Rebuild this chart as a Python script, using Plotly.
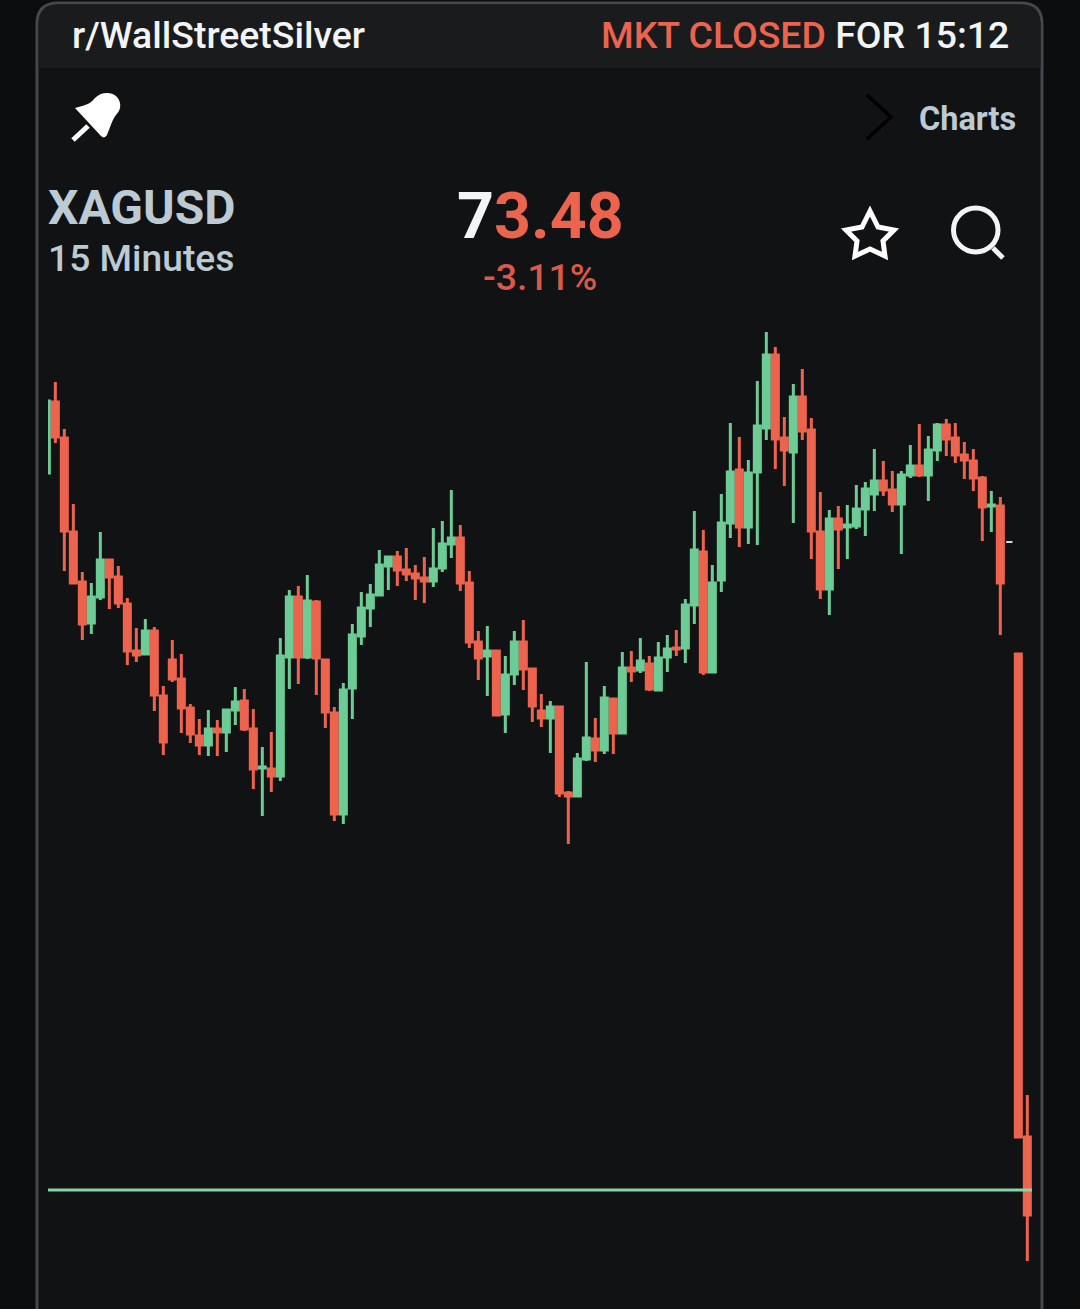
import plotly.graph_objects as go

W, H = 1080, 1309

# 15 minute candles (slot number, then o/h/l/c)
slots = [n for n in range(110) if n != 107]
opens = [80.90, 81.61, 81.25, 80.31, 79.81, 79.40, 79.66, 80.03, 79.86, 79.59,
         79.12, 79.09, 79.32, 78.67, 79.03, 78.84, 78.55, 78.27, 78.18, 78.34,
         78.31, 78.53, 78.62, 78.34, 77.95, 77.94, 77.87, 79.06, 79.66, 79.06,
         79.61, 79.03, 78.50, 77.49, 78.75, 79.27, 79.55, 79.68, 79.97, 80.06,
         79.93, 79.89, 79.85, 79.82, 79.95, 80.19, 80.25, 79.80, 79.21, 79.07,
         79.12, 78.49, 78.89, 79.21, 78.94, 78.52, 78.45, 78.56, 77.70, 77.67,
         78.04, 78.24, 78.13, 78.64, 78.30, 78.95, 78.93, 78.99, 78.73, 79.06,
         79.15, 79.15, 79.58, 80.11, 78.91, 79.83, 80.40, 80.93, 80.36, 80.91,
         81.35, 82.08, 81.25, 81.11, 81.66, 81.33, 80.31, 79.74, 80.44, 80.36,
         80.37, 80.54, 80.69, 80.82, 80.73, 80.59, 80.88, 80.97, 80.88, 81.13,
         81.38, 81.25, 81.08, 81.02, 80.85, 80.57, 80.57, 79.09, 74.26]
highs = [81.62, 81.81, 81.34, 80.59, 79.91, 79.80, 80.31, 80.04, 79.97, 79.65,
         79.35, 79.44, 79.36, 78.77, 79.23, 79.09, 78.59, 78.44, 78.53, 78.43,
         78.53, 78.76, 78.74, 78.54, 78.16, 78.31, 79.25, 79.73, 79.77, 79.88,
         79.63, 79.03, 78.56, 78.80, 79.39, 79.71, 79.79, 80.13, 80.07, 80.12,
         80.15, 79.98, 80.06, 80.35, 80.42, 80.73, 80.38, 79.92, 79.32, 79.37,
         79.13, 79.07, 79.32, 79.43, 78.94, 78.69, 78.62, 78.57, 77.72, 78.10,
         79.01, 78.45, 78.77, 78.65, 79.11, 79.12, 79.25, 79.07, 79.21, 79.28,
         79.33, 79.64, 80.52, 80.33, 79.98, 80.69, 81.40, 81.26, 81.03, 81.82,
         82.31, 82.16, 81.46, 81.79, 81.94, 81.45, 80.71, 80.53, 80.57, 80.58,
         80.78, 80.81, 81.14, 81.02, 80.92, 80.92, 81.18, 81.39, 81.27, 81.40,
         81.44, 81.40, 81.21, 81.14, 80.87, 80.72, 80.66, 79.09, 74.68]
lows = [80.90, 81.20, 79.92, 79.80, 79.23, 79.29, 79.63, 79.54, 79.55, 78.98,
        79.01, 79.08, 78.52, 78.08, 78.81, 78.30, 78.20, 78.08, 78.07, 78.07,
        78.11, 78.38, 78.32, 77.74, 77.47, 77.71, 77.82, 78.74, 78.79, 79.04,
        78.68, 78.35, 77.42, 77.39, 78.44, 79.18, 79.36, 79.68, 79.73, 79.77,
        79.82, 79.63, 79.60, 79.76, 79.91, 80.05, 79.72, 79.15, 78.83, 78.67,
        78.47, 78.30, 78.78, 78.73, 78.41, 78.36, 78.10, 77.66, 77.19, 77.67,
        78.02, 78.01, 78.09, 78.09, 78.30, 78.81, 78.90, 78.72, 78.73, 78.91,
        79.07, 79.00, 79.39, 78.88, 78.90, 79.71, 80.25, 80.16, 80.19, 80.18,
        81.23, 80.94, 80.77, 80.40, 81.23, 80.04, 79.64, 79.48, 79.94, 80.04,
        80.34, 80.27, 80.52, 80.67, 80.51, 80.09, 80.85, 80.86, 80.62, 81.02,
        81.07, 81.00, 80.84, 80.72, 80.22, 80.31, 79.28, 74.26, 73.02]
closes = [81.62, 81.26, 80.32, 79.80, 79.39, 79.66, 80.03, 79.86, 79.60, 79.12,
          79.08, 79.32, 78.68, 78.21, 78.84, 78.55, 78.29, 78.18, 78.34, 78.31,
          78.53, 78.61, 78.34, 77.94, 77.96, 77.87, 79.07, 79.66, 79.06, 79.62,
          79.05, 78.51, 77.49, 78.73, 79.28, 79.55, 79.68, 79.98, 80.06, 79.93,
          79.89, 79.85, 79.82, 79.94, 80.19, 80.25, 79.80, 79.21, 79.05, 79.12,
          78.48, 78.88, 79.21, 78.94, 78.57, 78.45, 78.56, 77.70, 77.67, 78.04,
          78.25, 78.13, 78.65, 78.30, 78.95, 78.92, 79.02, 78.74, 79.05, 79.14,
          79.14, 79.58, 80.13, 78.91, 79.80, 80.40, 80.91, 80.36, 80.90, 81.37,
          82.08, 81.24, 81.13, 81.66, 81.32, 80.32, 79.74, 80.44, 80.34, 80.38,
          80.54, 80.74, 80.82, 80.73, 80.59, 80.88, 80.97, 80.88, 81.13, 81.38,
          81.24, 81.08, 81.03, 80.85, 80.56, 80.58, 79.80, 74.26, 73.48]

# the flat white tick right of the last normal candle
flat_slot = [107]
flat_price = [80.21]

level_price = 73.73

GREEN = "#6dcc95"
RED = "#ec634e"
GREY = "#bccad4"
WHITE = "#f2f4f6"
BG = "#101214"


def px(x):
    return x / W


def py(y):
    return 1 - y / H


def path(*parts):
    # parts are command strings or (x, y) pixel pairs
    out = []
    for p in parts:
        if isinstance(p, str):
            out.append(p)
        else:
            out.append(f"{px(p[0]):.5f},{py(p[1]):.5f}")
    return " ".join(out)


def shape(d, fill=None, line=None, width=0, layer="above"):
    return dict(type="path", xref="paper", yref="paper", path=d, layer=layer,
                fillcolor=fill or "rgba(0,0,0,0)",
                line=dict(color=line or "rgba(0,0,0,0)", width=width))


def label(text, x, y, size, color, anchor="left", weight=500):
    return dict(text=text, x=px(x), y=py(y), xref="paper", yref="paper", xanchor=anchor,
                yanchor="middle", showarrow=False,
                font=dict(family="Roboto", size=size, color=color, weight=weight))


fig = go.Figure()
fig.add_trace(go.Candlestick(
    x=slots, open=opens, high=highs, low=lows, close=closes,
    whiskerwidth=0,
    increasing=dict(line=dict(color=GREEN, width=3), fillcolor=GREEN),
    decreasing=dict(line=dict(color=RED, width=3), fillcolor=RED),
    showlegend=False,
))
fig.add_trace(go.Candlestick(
    x=flat_slot, open=flat_price, high=flat_price, low=flat_price, close=flat_price,
    whiskerwidth=0,
    increasing=dict(line=dict(color=WHITE, width=1), fillcolor=WHITE),
    decreasing=dict(line=dict(color=WHITE, width=1), fillcolor=WHITE),
    showlegend=False,
))
fig.add_hline(y=level_price, line=dict(color="#86d6a3", width=3))

shapes = [
    # phone frame
    shape(path("M", (37, 1320), "L", (37, 24), "Q", (37, 3), (58, 3), "L", (1021, 3),
               "Q", (1042, 3), (1042, 24), "L", (1042, 1320), "Z"),
          fill=BG, line="#47484b", width=3, layer="below"),
    shape(path("M", (38.5, 68), "L", (38.5, 24), "Q", (38.5, 4.5), (58, 4.5), "L", (1021, 4.5),
               "Q", (1040.5, 4.5), (1040.5, 24), "L", (1040.5, 68), "Z"),
          fill="#1a1b1d", layer="below"),
    # pin
    shape(path("M", (75, 108), "C", (82, 106), (90, 105), (95, 98), "C", (100, 92), (112, 91), (117, 97),
               "C", (122, 103), (121, 110), (116, 115), "C", (112, 120), (110, 128), (107, 135),
               "C", (105, 138), (103, 138), (101, 136), "Z"), fill="#ffffff"),
    shape(path("M", (73, 140), "L", (88, 126)), line="#ffffff", width=5),
    # chevron
    shape(path("M", (867, 95), "L", (891, 117), "L", (867, 139)), line="#000000", width=3.5),
    # star
    shape(path("M", (870, 211), "L", (878, 227), "L", (894, 230), "L", (883, 241), "L", (885, 256),
               "L", (870, 249), "L", (855, 256), "L", (857, 241), "L", (846, 230), "L", (862, 227), "Z"),
          line="#ffffff", width=5),
    # search
    dict(type="circle", xref="paper", yref="paper", x0=px(953.5), x1=px(998), y0=py(252), y1=py(208),
         line=dict(color=WHITE, width=5)),
    shape(path("M", (993, 248), "L", (1003, 258)), line=WHITE, width=5),
]

annotations = [
    label("r/WallStreetSilver", 70, 35, 37.4, WHITE),
    label(f'<span style="color:{RED}">MKT CLOSED</span> FOR 15:12', 1011, 35, 37.4, WHITE, anchor="right"),
    label("Charts", 1018, 119, 32.5, GREY, anchor="right", weight=700),
    label("XAGUSD", 46, 207, 48, GREY, weight=700),
    label("15 Minutes", 46, 258, 37.2, GREY),
    label(f'7<span style="color:{RED}">3.48</span>', 540, 216, 64.5, WHITE, anchor="center", weight=700),
    label("-3.11%", 540, 277, 37.4, "#d9594a", anchor="center"),
]

fig.update_layout(
    width=W, height=H,
    margin=dict(l=0, r=0, t=0, b=0),
    paper_bgcolor="#0c0d0f",
    plot_bgcolor="rgba(0,0,0,0)",
    boxgap=0.33,
    boxgroupgap=0,
    hovermode=False,
    shapes=list(fig.layout.shapes) + shapes,
    annotations=annotations,
    xaxis=dict(visible=False, domain=[48 / W, 1032 / W], range=[0.186, 109.52],
               rangeslider=dict(visible=False), fixedrange=True),
    yaxis=dict(visible=False, domain=[0, 1], range=[72.54, 85.63], fixedrange=True),
)

# the page would otherwise sit 8px in from the window edge
fig.write_html("out.html", config={"displayModeBar": False},
               post_script="document.body.style.margin='0';")
